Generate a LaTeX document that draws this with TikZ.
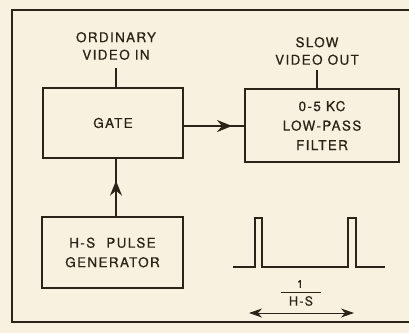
\documentclass[tikz,border=0pt]{standalone}
\usepackage{fontspec}
\setmainfont{TeX Gyre Heros}[LetterSpace=10,FakeBold=0.6]
\usetikzlibrary{arrows.meta,decorations.markings}
\definecolor{paper}{HTML}{F8F1E0}
\definecolor{ink}{HTML}{2A2418}
\begin{document}
\begin{tikzpicture}[x=1pt,y=-1pt,
  ink line/.style={draw=ink,line width=1.9pt},
  blk/.style={ink line,rectangle,inner sep=0pt,align=center,text=ink,font=\fontsize{13.5}{19.5}\selectfont},
  lbl/.style={align=center,text=ink,font=\fontsize{13.5}{17.5}\selectfont,inner sep=0pt},
  midarrow/.style={decoration={markings,mark=at position #1 with {\arrow{Stealth[length=15pt,width=12pt,inset=5pt]}}},postaction={decorate}}]
\fill[paper] (0,0) rectangle (409,333);
\useasboundingbox (0,0) rectangle (409,333);
% frame
\coordinate (ftr) at (412,10);
\coordinate (ftl) at (12,10);
\coordinate (fbl) at (12,322);
\coordinate (fbr) at (412,322);
\draw[ink line,line width=1.5pt] (ftr) -- (ftl) -- (fbl) -- (fbr);
% blocks
\node[blk,minimum width=140pt,minimum height=70pt] (gate) at (113,123) {GATE};
\node[blk,minimum width=154pt,minimum height=73pt] (filt) at (322,125.5) {0-5 KC\\LOW-PASS\\FILTER};
\node[blk,minimum width=141pt,minimum height=71pt] (gen) at (112.5,252.5) {H-S\hspace{6pt} PULSE\\GENERATOR};
% labels
\node[lbl] (vin) at (116,46) {ORDINARY\\VIDEO IN};
\node[lbl] (vout) at (317,51) {SLOW\\VIDEO OUT};
\coordinate (vinend) at (116,68);
\coordinate (voutend) at (317,70);
\draw[ink line] (vinend) -- (vinend |- gate.north);
\draw[ink line] (voutend) -- (voutend |- filt.north);
% connectors
\draw[ink line,midarrow=0.8] (gate.east |- 0,126) -- (filt.west |- 0,126);
\draw[ink line,midarrow=0.62] (gen.north -| 116,0) -- (gate.south -| 116,0);
% waveform
\coordinate (w0) at (233,267);
\draw[ink line,line join=miter] (w0) -- (255,267) -- (255,218) -- (262,218) -- (262,267)
  -- (348,267) -- (348,218) -- (356,218) -- (356,267) -- (385,267);
\node[lbl,font=\fontsize{11}{12}\selectfont] (one) at (300,284) {1};
\node[lbl,font=\fontsize{12.5}{12}\selectfont] (hs) at (301,301) {H-S};
\draw[ink,line width=1pt] (281,292) -- (321,292);
\coordinate (pa) at (249,313);
\coordinate (pb) at (354,313);
\draw[ink,line width=1pt,{Stealth[length=13pt,width=9pt,inset=4pt]}-{Stealth[length=13pt,width=9pt,inset=4pt]}] (pa) -- (pb);
\end{tikzpicture}
\end{document}
